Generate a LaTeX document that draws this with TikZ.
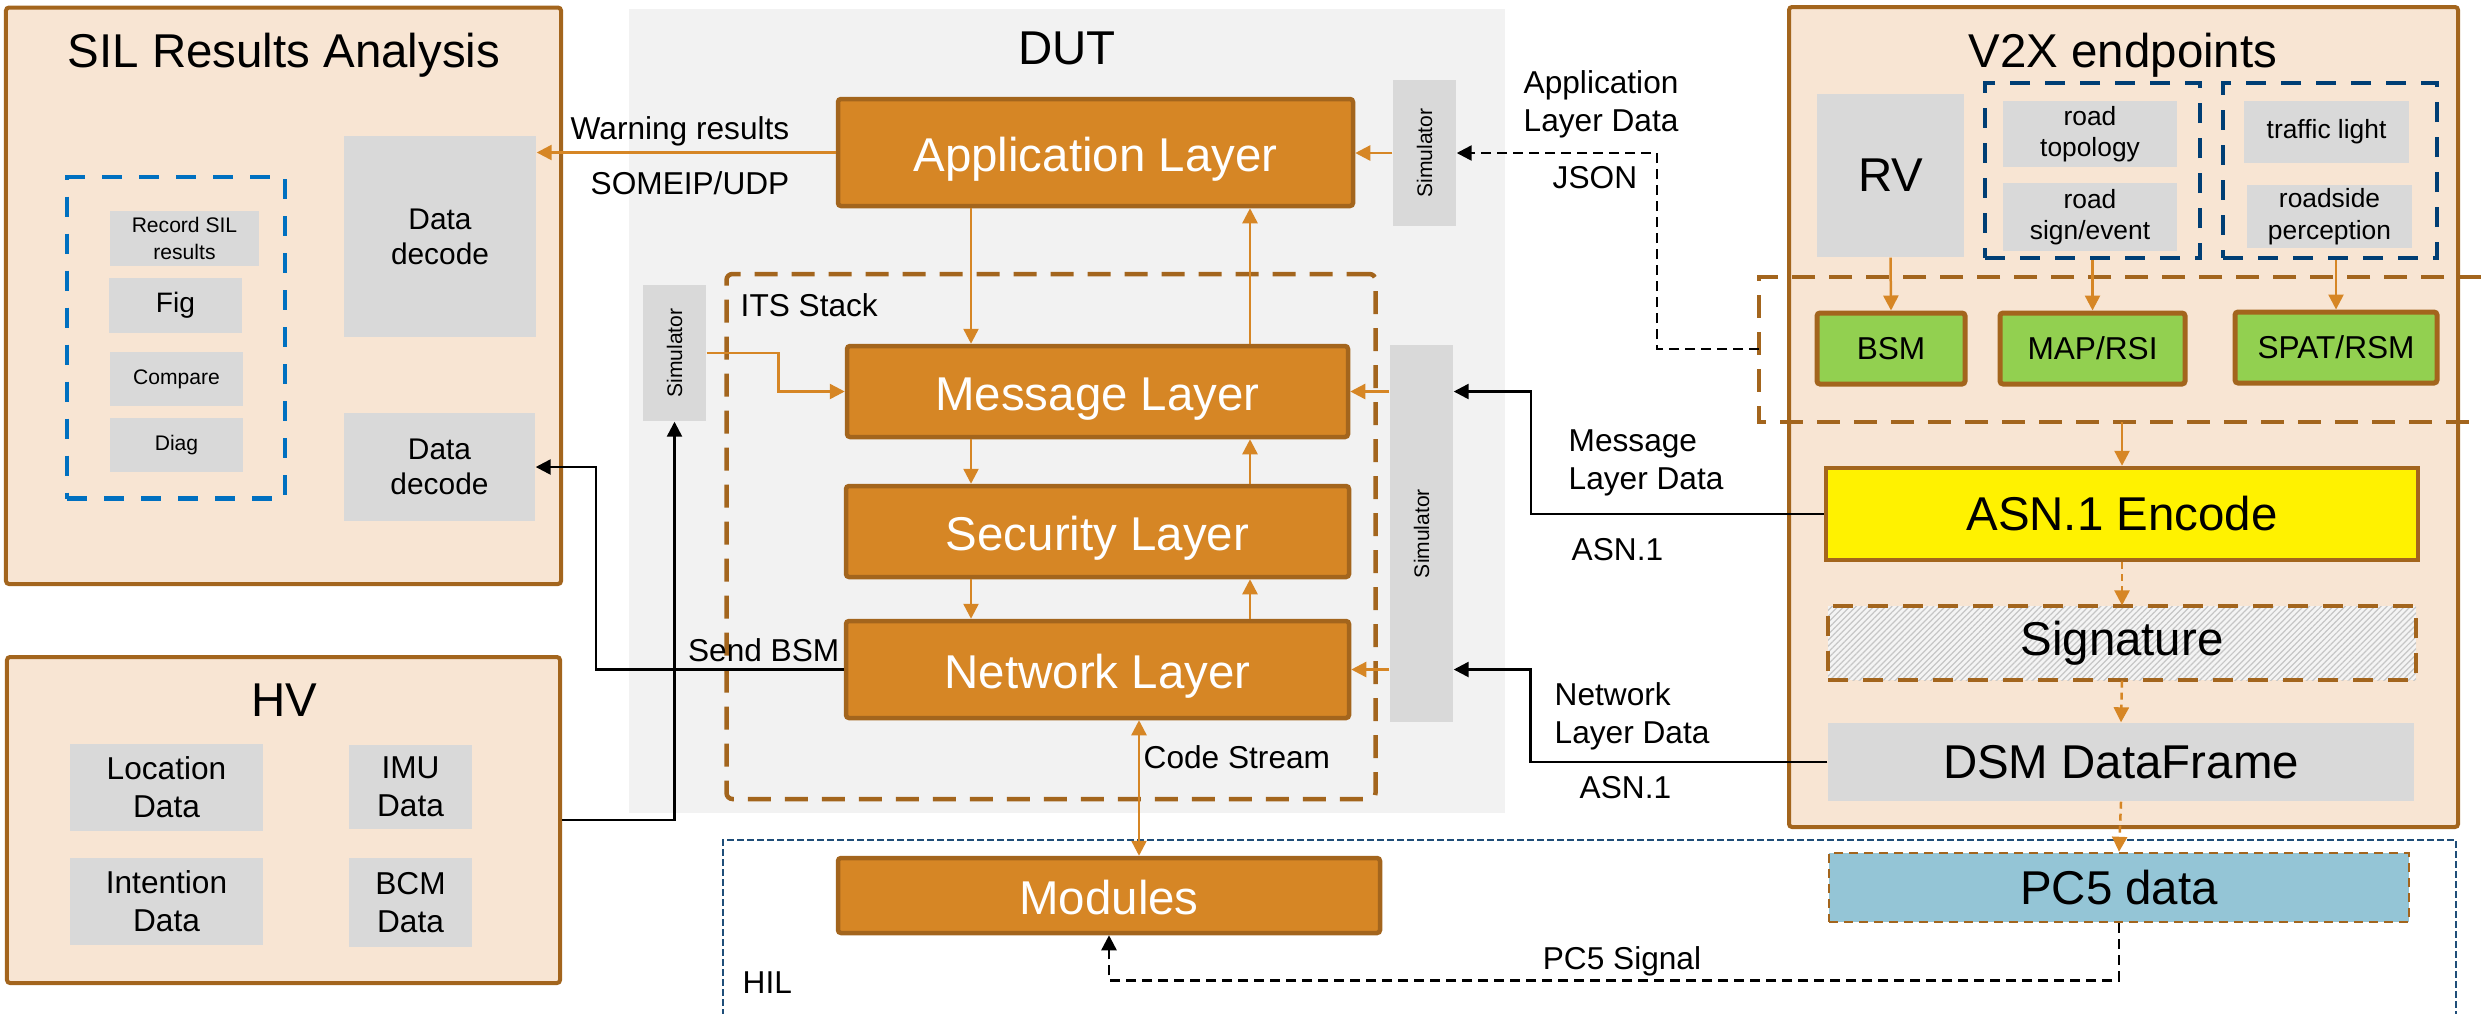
\documentclass[tikz,border=0pt]{standalone}
\usepackage{fontspec}
\setmainfont{Liberation Sans}
\usepackage{graphicx}
\usetikzlibrary{arrows.meta,patterns.meta}
\definecolor{peach}{RGB}{248,229,211}
\definecolor{rim}{RGB}{163,101,29}
\definecolor{amber}{RGB}{214,134,37}
\definecolor{boxgray}{RGB}{217,217,217}
\definecolor{dutgray}{RGB}{242,242,242}
\definecolor{leaf}{RGB}{146,208,80}
\definecolor{pcblue}{RGB}{148,197,214}
\definecolor{silblue}{RGB}{0,112,192}
\definecolor{rsublue}{RGB}{0,62,116}
\definecolor{hilblue}{RGB}{31,78,121}
\definecolor{sigbg}{RGB}{244,244,244}
\tikzset{
        bigfont/.style={font=\fontsize{13.5}{16}\selectfont},
        midfont/.style={font=\fontsize{9}{10.8}\selectfont},
        boxfont/.style={font=\fontsize{8.5}{10}\selectfont},
        leaffont/.style={font=\fontsize{7.5}{9}\selectfont},
        smallfont/.style={font=\fontsize{6}{7.5}\selectfont},
        panel/.style={draw=rim, line width=0.4mm, fill=peach, rounded corners=0.3mm, inner sep=0pt},
        layerbox/.style={draw=rim, line width=0.45mm, fill=amber, text=white, bigfont, inner sep=0pt, rounded corners=0.3mm,
          text height=12.8pt, text depth=2pt},
        graybox/.style={fill=boxgray, inner sep=0pt, align=center},
        simbox/.style={fill=boxgray, inner sep=0pt, smallfont},
        greenbox/.style={draw=rim, line width=0.5mm, fill=leaf, inner sep=0pt, midfont, rounded corners=0.3mm},
        sigbox/.style={draw=rim, line width=0.45mm, dash pattern=on 2mm off 1.5mm, preaction={fill=sigbg},
          pattern={Lines[angle=45, distance=1.2pt, line width=0.35pt]}, pattern color=gray!45, bigfont, inner sep=0pt},
        pcbox/.style={draw=rim, line width=0.25mm, dash pattern=on 0.9mm off 0.6mm, fill=pcblue, bigfont, inner sep=0pt},
        itsline/.style={draw=rim, line width=0.45mm, dash pattern=on 2.3mm off 1.4mm},
        silgroup/.style={draw=silblue, line width=0.45mm, dash pattern=on 2mm off 1.7mm, inner sep=0pt},
        rsugroup/.style={draw=rsublue, line width=0.4mm, dash pattern=on 2mm off 1.5mm, inner sep=0pt},
        hilline/.style={draw=hilblue, line width=0.2mm, dash pattern=on 0.7mm off 0.3mm},
        oarrow/.style={draw=amber, line width=0.25mm, -{Triangle[length=1.5mm, width=1.5mm]}},
        odash/.style={oarrow, dash pattern=on 0.7mm off 0.5mm},
        barrow/.style={draw=black, line width=0.25mm, -{Triangle[length=1.5mm, width=1.5mm]}},
        bdash/.style={barrow, dash pattern=on 1mm off 0.6mm},
        lbl/.style={midfont, inner sep=0pt}
          }
\begin{document}
\begin{tikzpicture}[x=1mm, y=-1mm]
        \useasboundingbox (0,0) rectangle (248.1,101.3);
        \node[fill=dutgray, minimum width=87.6mm, minimum height=80.4mm, inner sep=0pt] (dut) at (106.7,41.1) {};
        \node[bigfont] (duttitle) at (106.7,4.8) {DUT};
        \draw[hilline] (72.3,101.6) |- (245.6,84.0) -- (245.6,101.6);
        \node[lbl, anchor=west] (hillbl) at (74.2,98.3) {HIL};

        \node[panel, minimum width=55.5mm, minimum height=57.65mm] (sil) at (28.35,29.575) {};
        \node[bigfont] (siltitle) at (28.4,5.5) {SIL Results Analysis};
        \node[silgroup, minimum width=21.8mm, minimum height=32.15mm] (silgrp) at (17.6,33.78) {};
        \node[graybox, smallfont, minimum width=14.9mm, minimum height=5.5mm] (record) at (18.45,23.85) {Record SIL\\results};
        \node[graybox, font=\fontsize{8}{9.6}\selectfont, minimum width=13.3mm, minimum height=5.5mm] (fig) at (17.55,30.55) {Fig};
        \node[graybox, smallfont, minimum width=13.3mm, minimum height=5.4mm] (compare) at (17.65,37.9) {Compare};
        \node[graybox, smallfont, minimum width=13.3mm, minimum height=5.4mm] (diag) at (17.65,44.5) {Diag};
        \node[graybox, boxfont, minimum width=19.2mm, minimum height=20.1mm] (decodea) at (44.0,23.65) {Data\\decode};
        \node[graybox, boxfont, minimum width=19.1mm, minimum height=10.8mm] (decodeb) at (43.95,46.7) {Data\\decode};

        \node[panel, minimum width=55.3mm, minimum height=32.6mm] (hv) at (28.35,82.0) {};
        \node[bigfont] (hvtitle) at (28.4,70.0) {HV};
        \node[graybox, midfont, minimum width=19.3mm, minimum height=8.7mm] (location) at (16.65,78.75) {Location\\Data};
        \node[graybox, midfont, minimum width=12.3mm, minimum height=8.4mm] (imu) at (41.05,78.7) {IMU\\Data};
        \node[graybox, midfont, minimum width=19.3mm, minimum height=8.7mm] (intention) at (16.65,90.15) {Intention\\Data};
        \node[graybox, midfont, minimum width=12.3mm, minimum height=8.9mm] (bcm) at (41.05,90.25) {BCM\\Data};

        \node[layerbox, minimum width=51.5mm, minimum height=10.7mm] (app) at (109.55,15.25) {Application Layer};
        \node[simbox, minimum width=6.3mm, minimum height=14.65mm] (simt) at (142.45,15.3) {\rotatebox{90}{Simulator}};
        \node[itsline, rounded corners=0.6mm, minimum width=64.9mm, minimum height=52.5mm, inner sep=0pt] (its) at (105.1,53.65) {};
        \node[lbl, anchor=west] (itslbl) at (74.0,30.5) {ITS Stack};
        \node[simbox, minimum width=6.3mm, minimum height=13.6mm] (siml) at (67.45,35.3) {\rotatebox{90}{Simulator}};
        \node[layerbox, minimum width=50.1mm, minimum height=9.1mm] (msg) at (109.75,39.15) {Message Layer};
        \node[layerbox, minimum width=50.3mm, minimum height=9.1mm] (sec) at (109.75,53.15) {Security Layer};
        \node[layerbox, minimum width=50.3mm, minimum height=9.7mm] (net) at (109.75,66.95) {Network Layer};
        \node[simbox, minimum width=6.3mm, minimum height=37.7mm] (simb) at (142.15,53.35) {\rotatebox{90}{Simulator}};
        \node[layerbox, minimum width=54.2mm, minimum height=7.5mm] (mod) at (110.9,89.55) {Modules};
        \coordinate (dnx) at (97.1,0);
        \coordinate (upx) at (125.0,0);
        \coordinate (csx) at (113.9,0);

        \node[panel, minimum width=66.9mm, minimum height=82mm] (v2x) at (212.35,41.7) {};
        \node[bigfont] (v2xtitle) at (212.3,5.5) {V2X endpoints};
        \node[graybox, bigfont, minimum width=14.7mm, minimum height=16.3mm] (rv) at (189.05,17.55) {\raisebox{-0.5mm}{RV}};
        \node[rsugroup, minimum width=21.5mm, minimum height=17.5mm] (rsua) at (209.25,17.05) {};
        \node[graybox, leaffont, minimum width=17.4mm, minimum height=6.6mm] (topo) at (209.0,13.4) {road\\topology};
        \node[graybox, leaffont, minimum width=17.4mm, minimum height=6.8mm] (sign) at (209.0,21.7) {road\\sign/event};
        \node[rsugroup, minimum width=21.4mm, minimum height=17.5mm] (rsub) at (233.0,17.05) {};
        \node[graybox, leaffont, minimum width=16.5mm, minimum height=6.2mm] (light) at (232.65,13.2) {traffic light};
        \node[graybox, leaffont, minimum width=16.5mm, minimum height=6.3mm] (percep) at (232.95,21.65) {roadside\\perception};
        \draw[itsline] (248.1,27.7) -- (175.9,27.7) -- (175.9,42.2) -- (248.1,42.2);
        \coordinate (brk) at (175.9,34.9);
        \coordinate (brkb) at (212.2,42.2);
        \node[greenbox, minimum width=14.8mm, minimum height=7.1mm] (bsm) at (189.1,34.85) {BSM};
        \node[greenbox, minimum width=18.5mm, minimum height=7.1mm] (map) at (209.25,34.85) {MAP/RSI};
        \node[greenbox, minimum width=20.2mm, minimum height=7.1mm] (spat) at (233.6,34.75) {SPAT/RSM};
        \node[draw=rim, line width=0.45mm, fill=yellow, bigfont, inner sep=0pt, minimum width=59.2mm, minimum height=9.2mm] (asn) at (212.2,51.4) {ASN.1 Encode};
        \node[sigbox, minimum width=58.8mm, minimum height=7.4mm] (sig) at (212.2,64.3) {Signature};
        \node[graybox, bigfont, minimum width=58.6mm, minimum height=7.8mm] (dsm) at (212.1,76.2) {DSM DataFrame};
        \node[pcbox, minimum width=58mm, minimum height=6.9mm] (pc5) at (211.9,88.75) {PC5 data};

        \draw[oarrow] (app.south -| dnx) -- (msg.north -| dnx);
        \draw[oarrow] (msg.south -| dnx) -- (sec.north -| dnx);
        \draw[oarrow] (sec.south -| dnx) -- (net.north -| dnx);
        \draw[oarrow] (net.north -| upx) -- (sec.south -| upx);
        \draw[oarrow] (sec.north -| upx) -- (msg.south -| upx);
        \draw[oarrow] (msg.north -| upx) -- (app.south -| upx);
        \draw[oarrow] (simt.west) -- (simt.west -| app.east);
        \draw[oarrow] (simb.west |- msg.east) -- (msg.east);
        \draw[oarrow] (simb.west |- net.east) -- (net.east);
        \draw[oarrow] (siml.east) -- ++(7.2,0) |- (msg.west);
        \draw[oarrow] (app.west) -- (app.west -| decodea.east);
        \draw[oarrow, {Triangle[length=1.5mm, width=1.5mm]}-{Triangle[length=1.5mm, width=1.5mm]}] (net.south -| csx) -- (mod.north -| csx);
        \draw[barrow] (net.west) -- ++(-24.8,0) |- (decodeb.east);
        \draw[barrow] (hv.east) -| (siml.south);
        \draw[bdash] (brk) -- ++(-10.2,0) |- (simt.east);
        \draw[barrow] (asn.west) -- ++(-29.3,0) |- (simb.east |- msg.east);
        \draw[barrow] (dsm.west) -- ++(-29.7,0) |- (simb.east |- net.east);
        \draw[oarrow] (rv.south) -- (bsm.north);
        \draw[oarrow] (rsua.south) -- (map.north);
        \draw[oarrow] (rsub.south -| spat.north) -- (spat.north);
        \draw[oarrow] (brkb) -- (asn.north);
        \draw[odash] (asn.south) -- (sig.north);
        \draw[odash] (sig.south) -- (dsm.north);
        \draw[odash] (dsm.south) -- (pc5.north);
        \draw[bdash] (pc5.south) -- ++(0,5.7) -| (mod.south);

        \node[lbl, anchor=east] (warnlbl) at (79.0,13.1) {Warning results};
        \node[lbl, anchor=east] (udplbl) at (79.0,18.3) {SOMEIP/UDP};
        \node[lbl, anchor=east] (bsmlbl) at (84.0,65.0) {Send BSM};
        \node[lbl, anchor=west] (cslbl) at (114.3,75.7) {Code Stream};
        \node[lbl, anchor=west, align=left] (appdata) at (152.3,10.4) {Application\\Layer Data};
        \node[lbl, anchor=west] (jsonlbl) at (155.2,17.8) {JSON};
        \node[lbl, anchor=west, align=left] (msgdata) at (156.8,46.3) {Message\\Layer Data};
        \node[lbl, anchor=west] (asnlbla) at (157.1,55.0) {ASN.1};
        \node[lbl, anchor=west, align=left] (netdata) at (155.4,71.65) {Network\\Layer Data};
        \node[lbl, anchor=west] (asnlblb) at (157.9,78.8) {ASN.1};
        \node[lbl] (siglbl) at (162.2,96.1) {PC5 Signal};
      \end{tikzpicture}
\end{document}
